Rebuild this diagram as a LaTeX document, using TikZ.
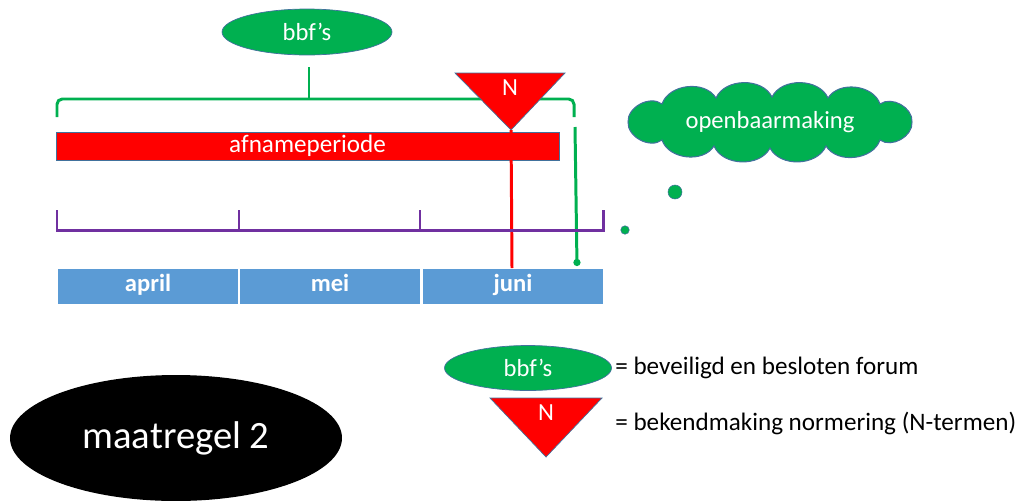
\documentclass[tikz,border=0pt]{standalone}
\usepackage{fontspec}
\setmainfont{Carlito}
\usetikzlibrary{shapes.geometric,arrows.meta}

\definecolor{bbfgreen}{HTML}{00B050}
\definecolor{edgeblue}{HTML}{41719C}
\definecolor{monthblue}{HTML}{5B9BD5}
\definecolor{tlpurple}{HTML}{7030A0}

\tikzset{
  bbf/.style={ellipse, draw=edgeblue, fill=bbfgreen, text=white, minimum width=3.4cm, minimum height=0.92cm, font=\fontsize{14}{16}\selectfont},
  month/.style={rectangle, draw=white, line width=1pt, fill=monthblue, text=white, minimum width=3.64cm, minimum height=0.74cm, inner sep=0pt, text height=1.6ex, text depth=0.5ex, font=\bfseries\fontsize{14}{16}\selectfont},
  nmark/.style={draw=edgeblue, fill=red, line width=0.4pt},
  ntext/.style={text=white, font=\fontsize{14}{16}\selectfont},
  legtext/.style={anchor=west, inner sep=0pt, font=\fontsize{14.3}{17}\selectfont},
  bracket/.style={draw=bbfgreen, line width=1.7pt, rounded corners=3pt},
  timeline/.style={draw=tlpurple, line width=1.7pt},
  puff/.style={bend left=65},
}

\begin{document}
\begin{tikzpicture}[x=0.02cm, y=-0.02cm]
    \useasboundingbox (0,0) rectangle (1017,501);

    % bovenkant: bbf's met accolade
    \node[bbf] (bbftop) at (307,32) {bbf’s};
    \draw[bracket] (57,117) -- (57,99) -- (574,99) -- (574,117);
    \draw[bracket, rounded corners=0pt] (309,99) -- (309,67);

    \node[rectangle, draw=edgeblue, fill=red, text=white, minimum width=10.06cm, minimum height=0.56cm, inner sep=0pt, font=\fontsize{14.3}{17}\selectfont] (afname) at (307.5,146) {afnameperiode};

    \draw[nmark] (455,73) -- (565,73) -- (511,130) -- cycle;
    \node[ntext] (ntop) at (510,88) {N};

    \node[month] (april) at (148,286.5) {april};
    \node[month] (mei) at (330,286.5) {mei};
    \node[month] (juni) at (513,286.5) {juni};

    \coordinate (napex) at (511,130);
    \coordinate (nend) at (512,268);
    \coordinate (gtop) at (575,127);
    \coordinate (gend) at (577,266);
    \draw[red, line width=1.7pt] (napex) -- (nend);
    \draw[bbfgreen, line width=1.7pt, -{Circle[length=4pt]}] (gtop) -- (gend);

    \draw[timeline] (57,210) -- (57,230) -- (603,230) -- (603,210);
    \draw[timeline] (239,210) -- (239,230);
    \draw[timeline] (420,210) -- (420,230);

    % wolk
    \draw[fill=bbfgreen, draw=edgeblue, line width=0.6pt]
      (628,122) to[puff] (662,104) to[puff] (716,98) to[puff] (772,97)
      to[puff] (828,98) to[puff] (880,104) to[puff] (912,122)
      to[puff] (880,140) to[puff] (826,146) to[puff] (770,148)
      to[puff] (714,146) to[puff] (662,140) to[puff] cycle;
    \node[text=white, font=\fontsize{14}{16}\selectfont] (openbaar) at (770,122) {openbaarmaking};
    \filldraw[fill=bbfgreen, draw=edgeblue, line width=0.3pt] (675,192) circle[radius=0.14cm];
    \filldraw[fill=bbfgreen, draw=edgeblue, line width=0.3pt] (625,230) circle[radius=0.085cm];

    % legenda
    \node[bbf, minimum width=3.34cm, minimum height=0.9cm] (bbfleg) at (528,368) {bbf’s};
    \node[legtext] (bbfuitleg) at (615,368) {= beveiligd en besloten forum};
    \draw[nmark] (490,398) -- (602,398) -- (546,457) -- cycle;
    \node[ntext] (nleg) at (546,413) {N};
    \node[legtext] (nuitleg) at (615,423) {= bekendmaking normering (N-termen)};

    \node[ellipse, fill=black, text=white, minimum width=6.64cm, minimum height=2.52cm, font=\fontsize{22}{26}\selectfont] (maatregel) at (176,438) {maatregel 2};

\end{tikzpicture}
\end{document}
